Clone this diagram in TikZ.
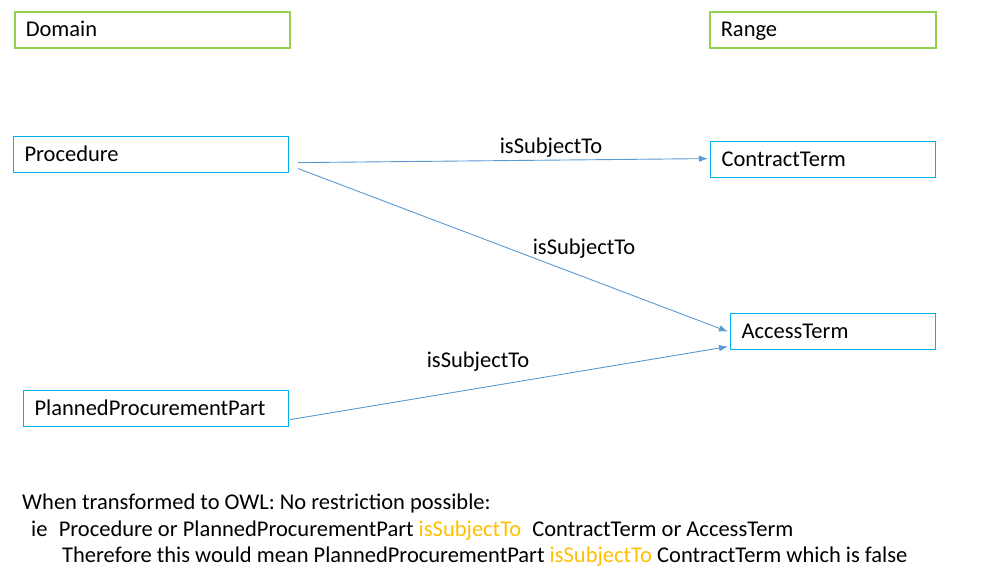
\documentclass[tikz,border=0pt]{standalone}
\usepackage{fontspec}
\setmainfont{Carlito}
\usetikzlibrary{arrows.meta,calc}
\definecolor{boxgreen}{RGB}{146,208,80}
\definecolor{boxblue}{RGB}{0,176,240}
\definecolor{arrowblue}{RGB}{91,155,213}
\definecolor{owlorange}{RGB}{255,192,0}
\tikzset{
  box/.style={rectangle, anchor=north west, inner xsep=11pt, inner ysep=0pt, align=left, text height=18pt, text depth=4pt, font=\fontsize{22.5}{27}\selectfont},
  greenbox/.style={box, draw=boxgreen, line width=1.5pt},
  bluebox/.style={box, draw=boxblue, line width=1.2pt},
  rel/.style={draw=arrowblue, line width=0.9pt, -{Latex[length=9pt,width=6.5pt]}},
  lbl/.style={font=\fontsize{22.5}{27}\selectfont, inner sep=0pt},
  txt/.style={font=\fontsize{22.5}{27}\selectfont, inner sep=0pt, anchor=base west}
}
\begin{document}
\begin{tikzpicture}[x=1pt,y=-1pt]
\useasboundingbox (0,0) rectangle (982,582);
\fill[white] (0,0) rectangle (982,582);
% boxes
\node[greenbox, minimum width=275pt, minimum height=36pt, text width=253pt] (domain) at (14,11) {Domain};
\node[greenbox, minimum width=226pt, minimum height=36pt, text width=204pt] (range) at (709,11) {Range};
\node[bluebox, minimum width=275pt, minimum height=36pt, text width=253pt] (proc) at (13,136) {Procedure};
\node[bluebox, minimum width=225pt, minimum height=36pt, text width=203pt] (contract) at (710,141) {ContractTerm};
\node[bluebox, minimum width=205pt, minimum height=36pt, text width=183pt] (access) at (730,313) {AccessTerm};
\node[bluebox, minimum width=265pt, minimum height=36pt, text width=243pt] (ppp) at (23,390) {PlannedProcurementPart};
% connectors
\draw[rel] ($(proc.east)+(9,8)$) -- ($(contract.west)+(-2,-1)$);
\draw[rel] ($(proc.east)+(9,14)$) -- ($(access.west)+(-2,0)$);
\draw[rel] ($(ppp.east)+(1,11)$) -- ($(access.west)+(-2,15)$);
% labels
\node[lbl] (l1) at (551,148) {isSubjectTo};
\node[lbl] (l2) at (584,249) {isSubjectTo};
\node[lbl] (l3) at (478,362) {isSubjectTo};
% bottom text
\node[txt] (t1) at (22,509) {When transformed to OWL: No restriction possible:};
\node[txt] (t2) at (31,536) {ie\hspace{0.5em}Procedure or PlannedProcurementPart \textcolor{owlorange}{isSubjectTo}\hspace{0.5em}ContractTerm or AccessTerm};
\node[txt] (t3) at (62,562) {Therefore this would mean PlannedProcurementPart \textcolor{owlorange}{isSubjectTo} ContractTerm which is false};
\end{tikzpicture}
\end{document}
